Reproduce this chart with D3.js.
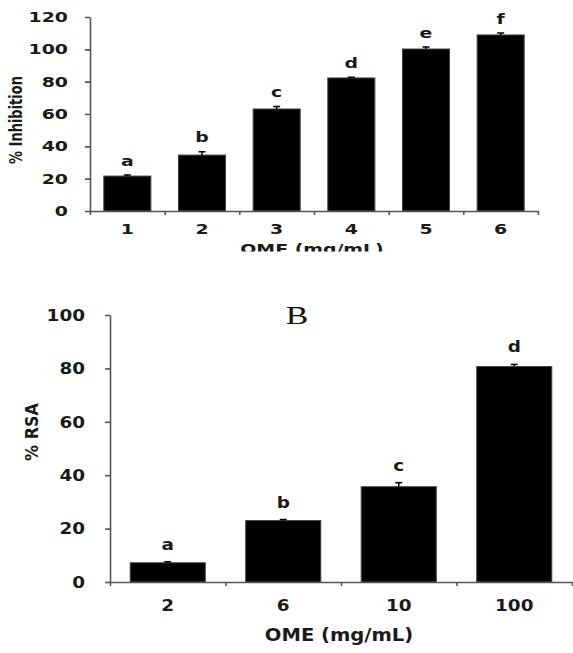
<!DOCTYPE html>
<html><head><meta charset="utf-8">
<script src="https://cdn.jsdelivr.net/npm/d3@7"></script>
<style>html,body{margin:0;padding:0;background:#fff;}svg{display:block;}</style>
</head><body>
<script>
// Panel A data
const topCats = ["1","2","3","4","5","6"];
const topVals = [21.6, 34.6, 63.1, 82.3, 100.2, 108.9];
const topErr = [0.6, 2.0, 1.5, 0.5, 1.2, 1.2];
const topLetters = ["a","b","c","d","e","f"];
const topTicks = [0,20,40,60,80,100,120];
// Panel B data
const botCats = ["2","6","10","100"];
const botVals = [7.2, 23.0, 35.7, 80.7];
const botErr = [0.4, 0.4, 1.5, 0.8];
const botLetters = ["a","b","c","d"];
const botTicks = [0,20,40,60,80,100];

const W = 573, H = 653;
const svg = d3.select("body").append("svg").attr("width", W).attr("height", H);
svg.append("defs").append("clipPath").attr("id","clipTop")
  .append("rect").attr("x",0).attr("y",0).attr("width",W).attr("height",251.5);

const FONT = "'DejaVu Sans', sans-serif";
function txt(g, x, y, s, o) {
  let tr = `translate(${x},${y}) scale(${o.sx||1},1)`;
  if (o.rot) tr += ` rotate(${o.rot})`;
  return g.append("text").attr("transform", tr)
    .attr("text-anchor", o.anchor || "middle")
    .attr("font-family", o.family || FONT)
    .attr("font-weight", o.weight || "bold")
    .attr("font-size", o.size)
    .attr("fill", o.fill || "#1a1a1a")
    .text(s);
}

function panel(g, cfg) {
  const x = d3.scaleBand().domain(cfg.cats).range([cfg.x0, cfg.x1]).paddingInner(cfg.pad).paddingOuter(cfg.pad/2);
  const xb = d3.scaleLinear().domain([0, cfg.cats.length]).range([cfg.x0, cfg.x1]);
  const y = d3.scaleLinear().domain([0, cfg.ymax]).range([cfg.y0, cfg.y1]);
  // bars
  g.selectAll(".bar").data(cfg.vals).join("rect")
    .attr("x", (d,i) => x(cfg.cats[i])).attr("width", x.bandwidth())
    .attr("y", d => y(d)).attr("height", d => y(0) - y(d))
    .attr("fill", "#000").attr("stroke", "#444").attr("stroke-width", 1);
  // error bars
  cfg.vals.forEach((v,i) => {
    const cx = x(cfg.cats[i]) + x.bandwidth()/2;
    const top = y(v + cfg.err[i]);
    g.append("line").attr("x1",cx).attr("x2",cx).attr("y1",y(v)).attr("y2",top).attr("stroke","#000").attr("stroke-width",1.5);
    g.append("line").attr("x1",cx-3.5).attr("x2",cx+3.5).attr("y1",top).attr("y2",top).attr("stroke","#000").attr("stroke-width",1.5);
    txt(g, cx, top - cfg.letterGap, cfg.letters[i], {size: cfg.fs, sx: cfg.sx});
    txt(g, cx, cfg.xlabY, cfg.cats[i], {size: cfg.fs, sx: cfg.sx});
  });
  // axes
  const ya = g.append("g").attr("transform", `translate(${cfg.x0},0)`)
    .call(d3.axisLeft(y).tickValues(cfg.ticks).tickSize(5).tickSizeOuter(0).tickFormat(""));
  const xa = g.append("g").attr("transform", `translate(0,${cfg.y0})`)
    .call(d3.axisBottom(xb).tickValues(d3.range(cfg.cats.length+1)).tickSize(4).tickSizeOuter(0).tickFormat(""));
  [ya, xa].forEach(a => { a.selectAll("path,line").attr("stroke","#555").attr("stroke-width",1.6); });
  cfg.ticks.forEach(t => txt(g, cfg.tickLabX, y(t) + cfg.fs*0.36, String(t), {size: cfg.fs, sx: cfg.sx, anchor: "end"}));
  txt(g, cfg.ylabX, cfg.ylabY, cfg.ylab, {size: cfg.yfs, sx: cfg.sx, rot: -90});
  txt(g, cfg.xtitleX, cfg.xtitleY, "OME (mg/mL)", {size: cfg.tfs, sx: cfg.tsx || cfg.sx});
}

const gTop = svg.append("g").attr("clip-path", "url(#clipTop)");
panel(gTop, {
  cats: topCats, vals: topVals, err: topErr, letters: topLetters, ticks: topTicks,
  x0: 90, x1: 538, y0: 211, y1: 17, ymax: 120, pad: 0.37,
  fs: 14, sx: 1.35, letterGap: 9.5, xlabY: 233.5, tickLabX: 68,
  ylab: "% Inhibition", ylabX: 22, ylabY: 120, yfs: 13,
  xtitleX: 312, xtitleY: 254, tfs: 14
});

const gBot = svg.append("g");
panel(gBot, {
  cats: botCats, vals: botVals, err: botErr, letters: botLetters, ticks: botTicks,
  x0: 110, x1: 572, y0: 582, y1: 315, ymax: 100, pad: 0.35,
  fs: 16, sx: 1.15, letterGap: 12, xlabY: 611, tickLabX: 85,
  ylab: "% RSA", ylabX: 38, ylabY: 432, yfs: 16,
  xtitleX: 339, xtitleY: 641, tfs: 17, tsx: 1.15
});
txt(svg, 297, 323.5, "B", {size: 26, sx: 1.3, weight: "normal", family: "'Liberation Serif', serif", fill: "#111"});
</script>
</body></html>
